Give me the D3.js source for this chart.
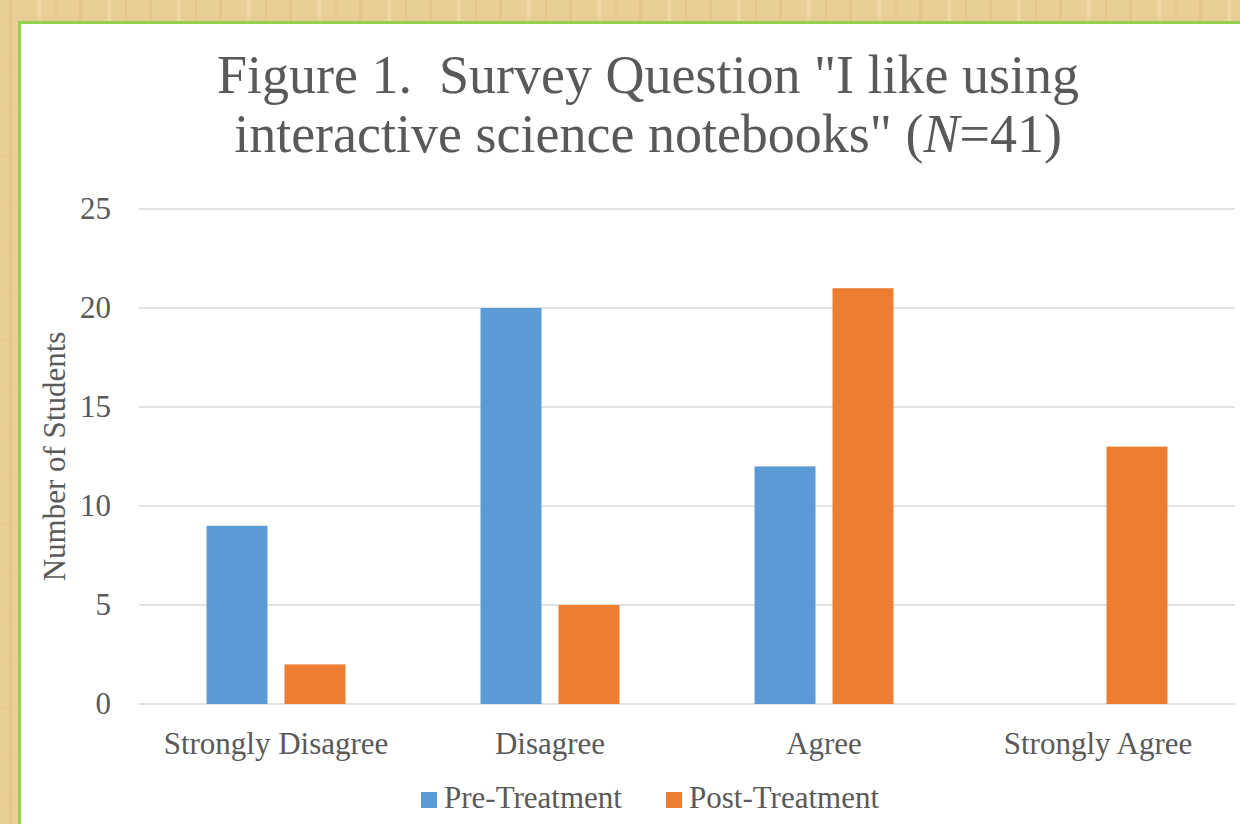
<!DOCTYPE html>
<html>
<head>
<meta charset="utf-8">
<script src="https://cdn.jsdelivr.net/npm/d3@7"></script>
<style>
  body { margin: 0; background: #e9cf96; overflow: hidden; }
  text { white-space: pre; }
</style>
</head>
<body>
<div id="chart"></div>
<script>
const categories = ['Strongly Disagree', 'Disagree', 'Agree', 'Strongly Agree'];
const seriesNames = ['Pre-Treatment', 'Post-Treatment'];
const preValues = [9, 20, 12, 0];
const postValues = [2, 5, 21, 13];
const yTicks = [0, 5, 10, 15, 20, 25];
const colors = ['#5b9bd5', '#ed7d31'];

const width = 1240;
const height = 824;
const margin = { top: 209, bottom: 120, left: 139, right: 5 };

const svg = d3.select('#chart')
  .append('svg')
  .attr('width', width)
  .attr('height', height);

// papyrus-like backdrop
const defs = svg.append('defs');
const pat = defs.append('pattern')
  .attr('id', 'paper')
  .attr('width', 70).attr('height', 46)
  .attr('patternUnits', 'userSpaceOnUse');
pat.append('rect').attr('width', 70).attr('height', 46).attr('fill', '#e9cf95');
pat.append('rect').attr('x', 9).attr('width', 3).attr('height', 46).attr('fill', '#ddbd7c').attr('opacity', 0.45);
pat.append('rect').attr('x', 37).attr('width', 4).attr('height', 46).attr('fill', '#f3deb0').attr('opacity', 0.6);
pat.append('rect').attr('x', 55).attr('width', 2).attr('height', 46).attr('fill', '#dcbb78').attr('opacity', 0.35);
pat.append('rect').attr('y', 17).attr('width', 70).attr('height', 2).attr('fill', '#dfc07e').attr('opacity', 0.25);
svg.append('rect').attr('width', width).attr('height', height).attr('fill', 'url(#paper)');

// white chart panel with green border
svg.append('rect')
  .attr('x', 19.5).attr('y', 22.5)
  .attr('width', 1240).attr('height', 840)
  .attr('fill', '#ffffff')
  .attr('stroke', '#92d050')
  .attr('stroke-width', 3);

const x0 = d3.scaleBand()
  .domain(categories)
  .range([margin.left, width - margin.right])
  .paddingInner(0)
  .paddingOuter(0);

const x1 = d3.scaleBand()
  .domain(seriesNames)
  .range([0, x0.bandwidth()])
  .paddingInner(0.218)
  .paddingOuter(0.866);

const y = d3.scaleLinear()
  .domain([0, 25])
  .range([height - margin.bottom, margin.top]);

const font = '"Liberation Serif", "Times New Roman", serif';
const textColor = '#595959';

// gridlines
svg.append('g')
  .selectAll('line')
  .data(yTicks)
  .join('line')
    .attr('x1', margin.left)
    .attr('x2', width - margin.right)
    .attr('y1', d => y(d))
    .attr('y2', d => y(d))
    .attr('stroke', '#d9d9d9')
    .attr('stroke-width', 1.5);

// bars
const rows = categories.map((c, i) => ({ cat: c, vals: [preValues[i], postValues[i]] }));
svg.append('g')
  .selectAll('g')
  .data(rows)
  .join('g')
    .attr('transform', d => `translate(${x0(d.cat)},0)`)
  .selectAll('rect')
  .data(d => d.vals.map((v, j) => ({ key: seriesNames[j], v, j })))
  .join('rect')
    .attr('x', d => x1(d.key))
    .attr('y', d => y(d.v))
    .attr('width', x1.bandwidth())
    .attr('height', d => y(0) - y(d.v))
    .attr('fill', d => colors[d.j]);

// y axis labels
const yAxis = d3.axisLeft(y).tickValues(yTicks).tickSize(0).tickPadding(28);
svg.append('g')
  .attr('transform', `translate(${margin.left},0)`)
  .call(yAxis)
  .call(g => g.select('.domain').remove())
  .call(g => g.selectAll('text')
    .attr('font-family', font)
    .attr('font-size', 31)
    .attr('fill', textColor));

// x axis labels
const xAxis = d3.axisBottom(x0).tickSize(0).tickPadding(28);
svg.append('g')
  .attr('transform', `translate(0,${y(0)})`)
  .call(xAxis)
  .call(g => g.select('.domain').remove())
  .call(g => g.selectAll('text')
    .attr('font-family', font)
    .attr('font-size', 31)
    .attr('fill', textColor));

// y axis title
svg.append('text')
  .attr('transform', `translate(65,${(y(0) + y(25)) / 2}) rotate(-90)`)
  .attr('text-anchor', 'middle')
  .attr('font-family', font)
  .attr('font-size', 31)
  .attr('fill', textColor)
  .text('Number of Students');

// title
const title = svg.append('text')
  .attr('text-anchor', 'middle')
  .attr('font-family', font)
  .attr('font-size', 54)
  .attr('fill', textColor);
title.append('tspan').attr('x', 648).attr('y', 93)
  .text('Figure 1.  Survey Question "I like using');
const l2 = title.append('tspan').attr('x', 648).attr('y', 152);
l2.append('tspan').text('interactive science notebooks" (');
l2.append('tspan').attr('font-style', 'italic').text('N');
l2.append('tspan').text('=41)');

// legend
const legend = svg.append('g').attr('font-family', font).attr('font-size', 31).attr('fill', textColor);
const legendX = [421, 666];
seriesNames.forEach((name, i) => {
  const g = legend.append('g').attr('transform', `translate(${legendX[i]},808)`);
  g.append('rect').attr('x', 0).attr('y', -16).attr('width', 16).attr('height', 16).attr('fill', colors[i]);
  g.append('text').attr('x', 23).attr('y', 0).text(name);
});
</script>
</body>
</html>
